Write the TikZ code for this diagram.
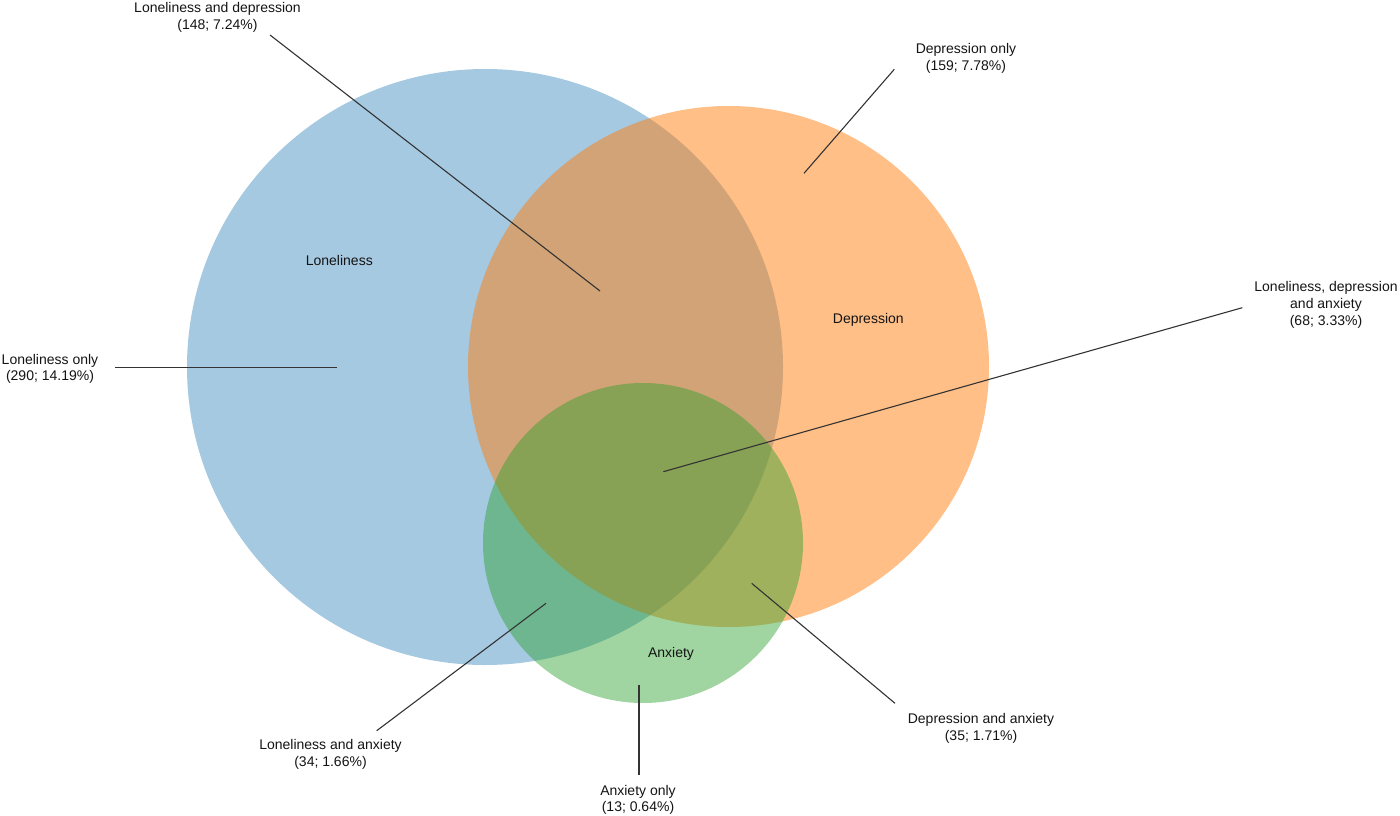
\documentclass[tikz,border=0pt]{standalone}
\usepackage{fontspec}
\setmainfont{Liberation Sans}
\definecolor{cblue}{HTML}{1F77B4}
\definecolor{corange}{HTML}{FF7F0E}
\definecolor{cgreen}{HTML}{2CA02C}
\definecolor{lead}{HTML}{333333}
\begin{document}
\begin{tikzpicture}[x=1pt,y=-1pt,
  lbl/.style={align=center,inner sep=0pt,font=\fontsize{14}{16.7}\selectfont,text=black!92},
  leader/.style={draw=lead,line width=1.1pt}]
\useasboundingbox (0,0) rectangle (1400,816);
% circles
\fill[cblue,fill opacity=0.4] (485,367) circle (298);
\fill[corange,fill opacity=0.5] (728.5,366.5) circle (260.5);
\fill[cgreen,fill opacity=0.45] (643,543) circle (160);
% set names
\node[lbl] (nL) at (339.3,260.5) {Loneliness};
\node[lbl] (nD) at (868.3,320.3) {Depression};
\node[lbl] (nA) at (671,654) {Anxiety};
% region labels
\node[lbl] (tLD) at (217.5,17.5) {Loneliness and depression\\(148; 7.24\%)};
\node[lbl] (tD) at (966,58.5) {Depression only\\(159; 7.78\%)};
\node[lbl] (tLDA) at (1326,304.8) {Loneliness, depression\\and anxiety\\(68; 3.33\%)};
\node[lbl] (tL) at (50,368.8) {Loneliness only\\(290; 14.19\%)};
\node[lbl] (tLA) at (330.5,754.5) {Loneliness and anxiety\\(34; 1.66\%)};
\node[lbl] (tA) at (638,799.8) {Anxiety only\\(13; 0.64\%)};
\node[lbl] (tDA) at (981,728.2) {Depression and anxiety\\(35; 1.71\%)};
% leader end points
\coordinate (aLD) at (270,35);    \coordinate (bLD) at (600,291);
\coordinate (aD) at (894.3,69.3); \coordinate (bD) at (804,173.3);
\coordinate (aLDA) at (1242.3,307.7); \coordinate (bLDA) at (663.3,471.7);
\coordinate (aL) at (115,367.7);  \coordinate (bL) at (337,367.7);
\coordinate (aLA) at (376.7,730.7); \coordinate (bLA) at (546,603.3);
\coordinate (aA) at (639,775);    \coordinate (bA) at (639,685);
\coordinate (aDA) at (895,703.3); \coordinate (bDA) at (751.7,583.3);
\draw[leader] (aLD) -- (bLD);
\draw[leader] (aD) -- (bD);
\draw[leader] (aLDA) -- (bLDA);
\draw[leader] (aL) -- (bL);
\draw[leader] (aLA) -- (bLA);
\draw[leader] (aA) -- (bA);
\draw[leader] (aDA) -- (bDA);
\end{tikzpicture}
\end{document}
